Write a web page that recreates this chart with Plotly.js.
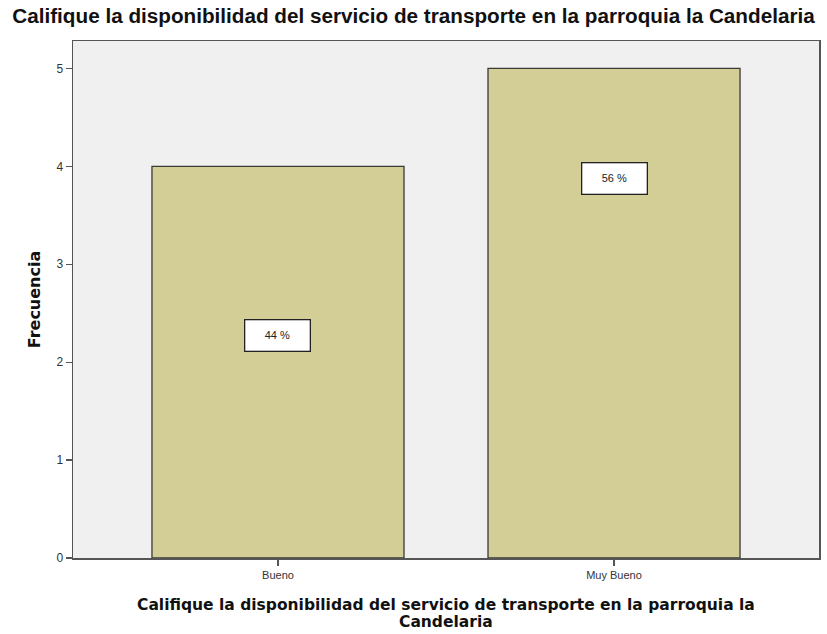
<!DOCTYPE html>
<html><head><meta charset="utf-8">
<script src="https://cdn.plot.ly/plotly-3.0.1.min.js"></script>
<style>body{margin:0;background:#fff}#chart{width:827px;height:634px}</style>
</head><body><div id="chart"></div>
<script>
const categories = ["Bueno", "Muy Bueno"];
const frequencies = [4, 5];
const percentLabels = ["44 %", "56 %"];
const labelY = [2.27, 3.88];
const yTicks = [0, 1, 2, 3, 4, 5];
const xTitleLines = ["Califique la disponibilidad del servicio de transporte en la parroquia la", "Candelaria"];

const trace = {
  type: "bar",
  x: categories,
  y: frequencies,
  width: 0.75,
  marker: {color: "#d3cd96", line: {color: "#3a3a3a", width: 1.3}},
  hoverinfo: "skip"
};

const annotations = categories.map((c, i) => ({
  x: c, y: labelY[i], xref: "x", yref: "y",
  text: percentLabels[i], showarrow: false,
  font: {family: "Liberation Sans, Arial", size: 11, color: "#222"},
  bgcolor: "#ffffff", bordercolor: "#222", borderwidth: 1.3,
  borderpad: 9, width: 46
}));

xTitleLines.forEach((t, i) => annotations.push({
  x: 0.5, y: 0, xref: "paper", yref: "paper",
  xanchor: "center", yanchor: "middle",
  yshift: -47 - i * 17,
  text: "<b>" + t + "</b>", showarrow: false,
  font: {family: "DejaVu Sans, Verdana", size: 15.5, color: "#111"}
}));

const layout = {
  width: 827, height: 634,
  margin: {l: 73, r: 8, t: 41, b: 76},
  paper_bgcolor: "#ffffff",
  plot_bgcolor: "#f0f0f0",
  title: {
    text: "<b>Califique la disponibilidad del servicio de transporte en la parroquia la Candelaria</b>",
    font: {family: "Liberation Sans, Arial", size: 20.7, color: "#111"},
    x: 0.5, xanchor: "center", y: 0.975, yanchor: "middle"
  },
  xaxis: {
    type: "category",
    range: [-0.61, 1.61],
    showline: true, linecolor: "#555", linewidth: 1.5, mirror: true,
    ticks: "outside", ticklen: 6, tickcolor: "#555", tickwidth: 1.3,
    tickfont: {family: "Liberation Sans, Arial", size: 11, color: "#333"},
    showgrid: false, zeroline: false
  },
  yaxis: {
    range: [0, 5.28],
    tickvals: yTicks,
    showline: true, linecolor: "#555", linewidth: 1.5, mirror: true,
    ticks: "outside", ticklen: 6, tickcolor: "#555", tickwidth: 1.3,
    tickfont: {family: "Liberation Sans, Arial", size: 12, color: "#333"},
    showgrid: false, zeroline: false,
    title: {
      text: "<b>Frecuencia</b>",
      font: {family: "DejaVu Sans, Verdana", size: 16, color: "#111"},
      standoff: 12
    }
  },
  annotations: annotations,
  showlegend: false
};

Plotly.newPlot("chart", [trace], layout, {displayModeBar: false, staticPlot: true});
</script></body></html>
